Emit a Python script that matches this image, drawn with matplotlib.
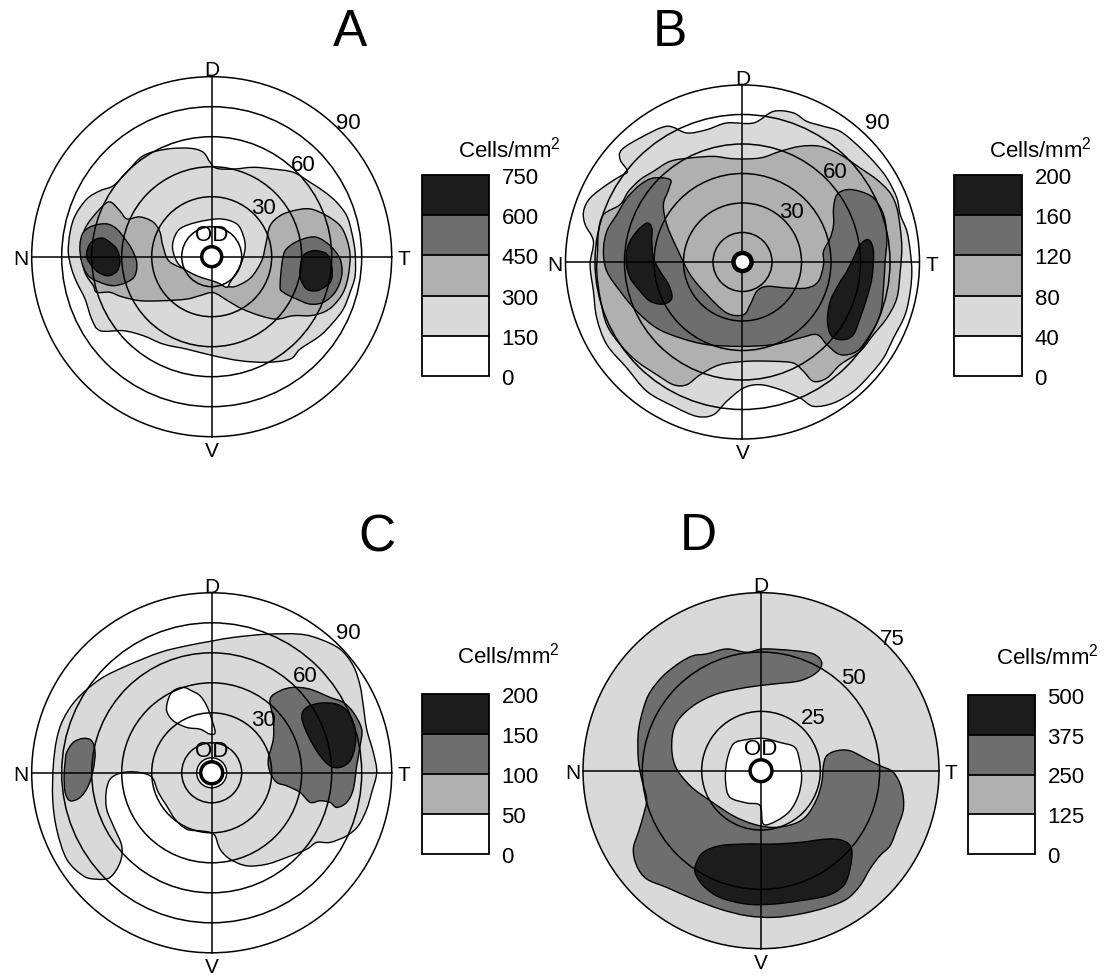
import matplotlib.pyplot as plt
import matplotlib as mpl
from matplotlib.patches import Circle, PathPatch
from matplotlib.path import Path
from matplotlib.colors import ListedColormap, BoundaryNorm

plt.rcParams['font.family'] = ['Liberation Sans', 'DejaVu Sans']
plt.rcParams['mathtext.fontset'] = 'custom'
plt.rcParams['mathtext.rm'] = 'Liberation Sans'
plt.rcParams['mathtext.it'] = 'Liberation Sans:italic'

W, H = 1111, 978

WHITE, LIGHT, MID, DARK, BLACK = '#ffffff', '#d9d9d9', '#b0b0b0', '#6e6e6e', '#1c1c1c'

# colour scales (cells/mm2)
levels_a = [0, 150, 300, 450, 600, 750]
levels_b = [0, 40, 80, 120, 160, 200]
levels_c = [0, 50, 100, 150, 200]
levels_d = [0, 125, 250, 375, 500]

# eccentricity rings (deg)
rings_abc = [15, 30, 45, 60, 75, 90]
rings_d = [25, 50, 75]

# contour outlines, (temporal, dorsal) in degrees from the optic disc
a_light = [(-71.7, 2.2), (-70.8, 12.2), (-68.3, 20.5), (-62.5, 28.8), (-55.8, 33), (-49.2, 35.5),
           (-42.5, 42.2), (-34.2, 50.5), (-22.5, 53.8), (-10.8, 54.2), (-4.2, 52.2), (-0.8, 47.2),
           (2.5, 44.2), (10.8, 43.8), (20.8, 44.7), (30.8, 43.8), (40.8, 42.2), (49.2, 37.2),
           (56.7, 32.2), (62.5, 27.2), (67.5, 20.5), (70, 12.2), (71.7, 2.2), (71.7, -9.5),
           (69.2, -17.8), (65.8, -26.2), (60.8, -32.8), (54.2, -39.5), (44.2, -46.2), (39.2, -51.2),
           (27.5, -52.8), (14.2, -52), (0.8, -49.5), (-12.5, -46.2), (-24.2, -43.7), (-34.2, -39.5),
           (-44.2, -37), (-55.8, -37), (-60, -31.2), (-63.3, -21.2), (-67.5, -12.8), (-70, -6.2)]
a_mid = [(-63.4, 13.9), (-55.9, 23.9), (-50.9, 27.4), (-45.9, 22.9), (-42.4, 18.9), (-35.9, 19.9),
         (-29.4, 17.4), (-25.9, 12.4), (-24.4, 5.4), (-20.9, -2.6), (-9.4, -7.6), (2.7, -11.1),
         (9, -15), (14, -14), (20, -10), (25, -2), (27, 6), (29.2, 15.5), (34.2, 20.5), (40.8, 23),
         (49.2, 23.9), (57.5, 20.5), (64.2, 15.5), (67.5, 8.9), (69.2, 0.5), (68.3, -9.5),
         (65.8, -17.8), (60.8, -24.5), (55.8, -27.8), (49.2, -29.5), (40.8, -29.5), (32.5, -31.2),
         (24.2, -29.5), (15, -26), (8, -22), (0.8, -18), (-6, -19.5), (-12.5, -21.2), (-24, -22),
         (-35.8, -22), (-45, -20), (-50.9, -17.8), (-57.5, -17.8), (-59.2, -14.5), (-63.4, -7.8),
         (-65, 2.2)]
a_dark_n = [(-65.9, 5.5), (-64.2, 12.2), (-59.2, 15.5), (-52.5, 16.4), (-47.5, 13.9), (-43.4, 8.9),
            (-40, 3.9), (-37.5, -2.8), (-38.4, -9.5), (-42.5, -12.8), (-49.2, -14.5), (-55.9, -12.8),
            (-61.7, -9.5), (-65, -2.8)]
a_dark_t = [(34.2, -14.5), (35.8, 0.5), (39.2, 5.5), (45.8, 8.9), (52.5, 9.7), (59.2, 5.5), (64.2, -1.2),
            (65, -9.5), (61.7, -17.8), (55.8, -22.8), (49.2, -23.7), (42.5, -21.2), (35.8, -17.8)]
a_black_n = [(-62.5, 2.2), (-60.9, 6.4), (-57.5, 8.9), (-54.2, 9.2), (-50.9, 7.2), (-47.5, 3.9),
             (-45.9, -1.2), (-46.7, -6.2), (-49.2, -8.7), (-52.5, -9.5), (-56.7, -7.8), (-60, -4.5),
             (-62.2, -1.2)]
a_black_t = [(44.2, -6.2), (45.8, 0.5), (50.9, 3), (57.5, 1.4), (60, -4.5), (60, -11.2), (57.5, -14.5),
             (52.5, -17), (47.5, -16.2), (44.5, -11.2)]
a_white = [(-19.2, 8), (-15.9, 13.9), (-7.5, 17.2), (4.2, 18.9), (12.5, 16.4), (15.8, 10.5), (16.7, 3.9),
           (14.2, -4.5), (9.2, -12.8), (7.5, -15.3), (2.5, -12.8), (-7.5, -9.5), (-15.9, -4.5),
           (-19.2, 2.2)]

b_light = [(-80.8, 25.8), (-77.5, 32.5), (-69, 39.3), (-62.2, 43.6), (-58.5, 46.1), (-62.2, 52),
           (-61.4, 57.1), (-52, 63.1), (-38.5, 69), (-28.3, 65.6), (-18.1, 67.3), (-8, 70.7), (5.6, 70.7),
           (15.8, 76.6), (25.9, 75.8), (32.7, 71.5), (41.2, 69), (49.7, 66.4), (58.1, 59.7), (66.6, 51.2),
           (73.4, 42.7), (78.5, 32.5), (80.2, 24.1), (83.6, 15.6), (85.3, 5.4), (86.1, -4.7),
           (85.3, -14.9), (82.7, -26.8), (76.8, -38.6), (71.7, -48.8), (64.9, -57.3), (56.4, -65.8),
           (46.3, -71.7), (36.1, -73.4), (29.3, -69.2), (19.2, -64.9), (9, -62.4), (0.5, -64.1),
           (-8, -70.8), (-14.7, -77.6), (-23.2, -78.5), (-35.1, -73.4), (-48.6, -65.8), (-58.8, -53.9),
           (-69, -42), (-74.1, -28.5), (-75.8, -14.9), (-77.5, -1.4), (-75.8, 10.5), (-80, 19)]
b_mid = [(-73.2, 15.6), (-70.7, 24.1), (-62.2, 29.2), (-58, 35.9), (-52, 41.9), (-45.3, 46.1),
         (-36.8, 51.2), (-26.6, 52.9), (-14.7, 53.7), (-4.6, 52.5), (9, 52.9), (19.2, 56.3), (29.3, 58.8),
         (39.5, 58.8), (49.7, 54.6), (59.8, 47.8), (68.3, 41.9), (75.1, 35.1), (78.5, 27.5), (80.2, 17.3),
         (81, 7.1), (80.2, -4.7), (78.5, -18.3), (73.4, -28.5), (66.6, -36.9), (59.8, -45.4),
         (49.7, -52.2), (42.9, -59), (36.1, -60.7), (31, -55.6), (25.9, -51.4), (15.8, -50.5),
         (2.2, -50.5), (-11.4, -52.2), (-21.5, -57.3), (-28.3, -62.4), (-35.1, -62.4), (-43.6, -57.3),
         (-53.7, -50.5), (-62.2, -42), (-69, -31.9), (-72.4, -18.3), (-74.1, -4.7), (-73.7, 5.4)]
b_dark = [(-36.8, 41.9), (-45.3, 42.7), (-52, 39.3), (-58.8, 32.5), (-63.9, 24.1), (-69, 15.6), (-70.7, 5.4),
          (-69, -4.7), (-62.2, -14.9), (-53.7, -25.1), (-43.6, -33.6), (-31.7, -38.6), (-18.1, -42),
          (-1.2, -42.9), (15.8, -42), (29.3, -38.6), (37.8, -36.9), (42.9, -42), (49.7, -47.1),
          (58.1, -45.4), (64.9, -36.9), (70, -26.8), (71.7, -13.2), (72.5, 0.3), (73.4, 12.2),
          (71.7, 24.1), (66.6, 32.5), (59.8, 35.9), (53.1, 36.8), (48, 34.2), (46.3, 27.5), (46.3, 19),
          (44.6, 12.2), (41.2, 5.4), (41.2, -1.4), (38.6, -9.8), (32.7, -13.2), (22.5, -13.2),
          (12.4, -12.4), (7.3, -14.9), (3.9, -21.7), (0.5, -26.8), (-8, -25.9), (-18.1, -16.6),
          (-26.6, -6.4), (-33.4, 7.1), (-38.5, 19), (-40.2, 29.2), (-37.6, 36.8)]
b_black_n = [(-48.6, 19.8), (-53.7, 15.6), (-58, 8.8), (-59.2, 0.3), (-57.1, -8.1), (-52, -14.9), (-46.9, -20),
             (-40.2, -21.4), (-35.9, -18.3), (-37.6, -11.5), (-41.9, -4.7), (-45.3, 2), (-46.1, 10.5),
             (-46.1, 17.3)]
b_black_t = [(59.8, 8.8), (64.1, 11.3), (66.6, 5.4), (65.8, -8.1), (63.2, -18.3), (59.8, -28.5), (56.4, -36.9),
             (51.4, -39.5), (45.4, -37.8), (43.2, -30.2), (44.6, -20), (48.8, -11.5), (53.1, -4.7),
             (56.4, 2)]

c_light = [(-74.2, 26.8), (-67.5, 36.8), (-55.8, 46.8), (-42.5, 53.5), (-25.8, 60.2), (-12.5, 63.5),
           (0.8, 66), (10.8, 67.7), (27.5, 69.3), (44.2, 69.3), (54.2, 66.8), (64.2, 61.8), (70.8, 53.5),
           (74.2, 43.5), (75.8, 33.5), (77.5, 21.8), (80.8, 10.2), (82.5, 0.2), (80, -9.8), (77.5, -18.2),
           (73.3, -26.5), (67.5, -31.5), (59.2, -34.8), (52.5, -34.8), (47.5, -38.2), (37.5, -42.3),
           (27.5, -45.7), (17.5, -46.5), (9.2, -43.2), (4.2, -38.2), (1.7, -31.5), (-0.8, -29.8),
           (-5.8, -29), (-12.5, -28.2), (-18.3, -23.2), (-22.5, -16.5), (-26.7, -9.8), (-29.2, -3.2),
           (-32.5, -0.7), (-39.2, 0.5), (-45.8, -0.2), (-50.8, -3.2), (-52.8, -9.8), (-52.5, -18.2),
           (-49.2, -26.5), (-45, -36.5), (-45.8, -44.8), (-50.8, -52.3), (-57.5, -53.2), (-64.2, -51.5),
           (-72.5, -43.2), (-77.5, -28.2), (-79.5, -13.2), (-79.2, 3.5), (-77.5, 16.8)]
c_hole = [(-21.7, 36.8), (-19.2, 41), (-14.2, 42.7), (-10, 41), (-5.8, 38.5), (-2.5, 33.5), (0, 26.8),
          (1.7, 20.2), (-0.8, 19.3), (-5.8, 21.8), (-12.5, 22.7), (-19.2, 26), (-22.5, 31)]
c_dark_t = [(29.2, 36.8), (34.2, 41), (40.8, 42.7), (49.2, 41.8), (59.2, 37.7), (65.8, 35.2), (70.8, 30.2),
            (75, 21.8), (74.2, 13.5), (72.5, 3.5), (70.8, -8.2), (67.5, -14.8), (62.5, -17.3), (59.2, -14.8),
            (54.2, -14), (49.2, -14.8), (44.2, -9.8), (37.5, -6.5), (32.5, -4.8), (29.2, 0.2), (28.3, 6.8),
            (30.8, 16.8), (30.8, 26.8)]
c_dark_n = [(-72.5, 10.2), (-69.2, 15.2), (-64.2, 17.2), (-60, 16), (-58.3, 10.2), (-59.2, 1.8), (-61.7, -6.5),
            (-65.8, -12.3), (-70.8, -14), (-73.3, -9.8), (-73.8, -1.5), (-73.3, 5.2)]
c_black = [(45, 28.5), (47.5, 32.7), (54.2, 34.8), (62.5, 34.3), (68.3, 30.2), (71.7, 21.8), (71.7, 13.5),
           (69.2, 6), (64.2, 2.7), (59.2, 3.5), (54.2, 8.5), (50, 15.2), (46.7, 22)]
c_od_white = 7.5

d_white = [(-11.7, 11.2), (-6, 13.1), (1, 13.6), (8, 11.9), (14.3, 9.8), (16.4, 3.5), (17.1, -3.5),
           (15.7, -10.5), (12.2, -16.9), (6.6, -21.1), (1, -22.5), (-0.4, -14.7), (-6, -13.6),
           (-13.1, -11.2), (-14.9, -4.9), (-14.5, 3.5)]
d_dark = [(-22.9, 49.2), (-14.5, 51.3), (-6, 49.9), (1, 51.3), (13.6, 50.6), (22.1, 49.2), (25.6, 45.6),
          (23.5, 41.4), (16.4, 37.9), (5.2, 36.5), (-6, 35.1), (-18.7, 32.3), (-28.5, 27.4), (-35.5, 20.4),
          (-37.6, 11.9), (-36.2, 2.1), (-29.9, -6.3), (-21.5, -12.6), (-11.7, -19), (-3.2, -22.5),
          (5.2, -23.9), (13.6, -22.5), (19.2, -19), (23.5, -11.9), (25.6, -4.9), (26.3, 2.1), (27.7, 6.3),
          (31.9, 8.4), (37.5, 8.4), (44.5, 4.9), (50.1, 2.1), (55.8, -0.7), (59.3, -7.7), (60, -16.2),
          (57.2, -24.6), (54.4, -31.6), (50.1, -35.8), (45.9, -41.4), (41.7, -48.5), (36.1, -54.1),
          (27.7, -57.6), (16.4, -60.4), (5.2, -61.8), (-6, -61.1), (-17.3, -58.3), (-28.5, -54.1),
          (-39.7, -49.2), (-48.2, -45.6), (-52.4, -40), (-53.8, -33), (-51.7, -26), (-49.6, -19),
          (-48.2, -11.9), (-50.3, -3.5), (-51.7, 4.9), (-51.7, 16.2), (-49.6, 26), (-46.8, 33),
          (-41.2, 40), (-34.1, 45.6), (-28.5, 48.5)]
d_black = [(-27.1, -38.6), (-24.3, -34.4), (-17.3, -31.6), (-6, -30.9), (5.2, -30.9), (16.4, -30.2),
           (27.7, -28.8), (34.7, -29.5), (38.2, -33), (37.5, -41.4), (34.7, -48.5), (27.7, -52.7),
           (16.4, -54.8), (5.2, -56.2), (-6, -56.2), (-17.3, -53.4), (-24.3, -48.5), (-27.8, -42.8)]


def smooth_path(pts):
    # closed Catmull-Rom outline as cubic Bezier segments
    n = len(pts)
    verts = [pts[0]]
    codes = [Path.MOVETO]
    for i in range(n):
        p0, p1, p2, p3 = pts[i - 1], pts[i], pts[(i + 1) % n], pts[(i + 2) % n]
        c1 = (p1[0] + (p2[0] - p0[0]) / 6, p1[1] + (p2[1] - p0[1]) / 6)
        c2 = (p2[0] - (p3[0] - p1[0]) / 6, p2[1] - (p3[1] - p1[1]) / 6)
        verts += [c1, c2, p2]
        codes += [Path.CURVE4] * 3
    verts.append(pts[0])
    codes.append(Path.CLOSEPOLY)
    return Path(verts, codes)


fig = plt.figure(figsize=(W / 100, H / 100), dpi=100)


def panel(cx, cy, r_px, r_deg, rings, ring_labels, regions, od_r, od_lw, od_label, extra_ring=None):
    half = 200
    lim = half * r_deg / r_px
    ax = fig.add_axes([(cx - half) / W, 1 - (cy + half) / H, 2 * half / W, 2 * half / H])
    ax.set_xlim(-lim, lim)
    ax.set_ylim(-lim, lim)
    ax.axis('off')
    clip = Circle((0, 0), r_deg, transform=ax.transData)
    for z, (pts, color) in enumerate(regions):
        p = PathPatch(smooth_path(pts), facecolor=color, edgecolor='black', lw=1.0, zorder=2 + z)
        ax.add_patch(p)
        p.set_clip_path(clip)
    if extra_ring:
        ax.add_patch(Circle((0, 0), extra_ring, facecolor='white', edgecolor='black', lw=1.0, zorder=9))
    for r in rings:
        ax.add_patch(Circle((0, 0), r, fill=False, edgecolor='black', lw=1.1, zorder=10))
    ax.plot([-r_deg, r_deg], [0, 0], color='black', lw=1.1, zorder=10)
    ax.plot([0, 0], [-r_deg, r_deg], color='black', lw=1.1, zorder=10)
    ax.add_patch(Circle((0, 0), od_r, facecolor='white', edgecolor='black', lw=od_lw, zorder=12))
    if od_label:
        ax.annotate('OD', (0, 0), xytext=(0, 16), textcoords='offset points', ha='center',
                    va='center', fontsize=16, zorder=13)
    for (x, y), s in ring_labels:
        ax.text(x, y, s, ha='center', va='center', fontsize=16, zorder=13)
    fs = 15
    ax.annotate('D', (0, r_deg), xytext=(0, -2), textcoords='offset points', ha='center', va='bottom', fontsize=fs)
    ax.annotate('V', (0, -r_deg), xytext=(0, -3), textcoords='offset points', ha='center', va='top', fontsize=fs)
    ax.annotate('N', (-r_deg, 0), xytext=(-2, 0), textcoords='offset points', ha='right', va='center_baseline', fontsize=fs)
    ax.annotate('T', (r_deg, 0), xytext=(4, 0), textcoords='offset points', ha='left', va='center_baseline', fontsize=fs)
    return ax


def colorbar(x0, y0, x1, y1, levels, colors, title_xy):
    cax = fig.add_axes([x0 / W, 1 - y1 / H, (x1 - x0) / W, (y1 - y0) / H])
    cmap = ListedColormap(colors)
    norm = BoundaryNorm(levels, cmap.N)
    cb = fig.colorbar(mpl.cm.ScalarMappable(norm=norm, cmap=cmap), cax=cax, ticks=levels, drawedges=True)
    cb.outline.set_linewidth(1.3)
    cb.dividers.set_linewidth(1.3)
    cax.tick_params(length=0, labelsize=16, pad=9)
    fig.text(title_xy[0] / W, 1 - title_xy[1] / H, 'Cells/mm$^2$', ha='center', va='center', fontsize=16)


panel(211.7, 257.7, 180, 90, rings_abc,
      [((25.8, 24.7), '30'), ((45.8, 46.3), '60'), ((68.3, 67.2), '90')],
      [(a_light, LIGHT), (a_mid, MID), (a_dark_n, DARK), (a_dark_t, DARK),
       (a_black_n, BLACK), (a_black_t, BLACK), (a_white, WHITE)],
      5, 2.5, True)
panel(742.5, 263, 177, 90, rings_abc,
      [((25.1, 25.8), '30'), ((47.1, 46.1), '60'), ((68.3, 70.7), '90')],
      [(b_light, LIGHT), (b_mid, MID), (b_dark, DARK), (b_black_n, BLACK), (b_black_t, BLACK)],
      4.6, 3.2, False)
panel(211.7, 773.8, 180, 90, rings_abc,
      [((25.8, 26.8), '30'), ((46.7, 48.5), '60'), ((68.3, 70.2), '90')],
      [(c_light, LIGHT), (c_hole, WHITE), (c_dark_t, DARK), (c_dark_n, DARK), (c_black, BLACK)],
      5.5, 2.5, True, extra_ring=c_od_white)
axd = panel(761, 771.7, 178, 75, rings_d,
            [((22.1, 22.5), '25'), ((38.9, 39.3), '50'), ((55.1, 55.5), '75')],
            [(d_dark, DARK), (d_black, BLACK), (d_white, WHITE)],
            4.6, 2.5, True)
axd.add_patch(Circle((0, 0), 75, facecolor=LIGHT, edgecolor='none', zorder=1))

colorbar(422, 176, 489, 377, levels_a, [WHITE, LIGHT, MID, DARK, BLACK], (509, 150))
colorbar(954, 176, 1022, 377, levels_b, [WHITE, LIGHT, MID, DARK, BLACK], (1040, 150))
colorbar(422, 695, 489, 855, levels_c, [WHITE, MID, DARK, BLACK], (508, 656))
colorbar(968, 696, 1035, 855, levels_d, [WHITE, MID, DARK, BLACK], (1047, 657))

for s, (x, y) in zip('ABCD', [(350, 32), (670, 32), (377, 538), (698, 537)]):
    fig.text(x / W, 1 - y / H, s, ha='center', va='center', fontsize=37)

fig.savefig('out.png', dpi=100)
